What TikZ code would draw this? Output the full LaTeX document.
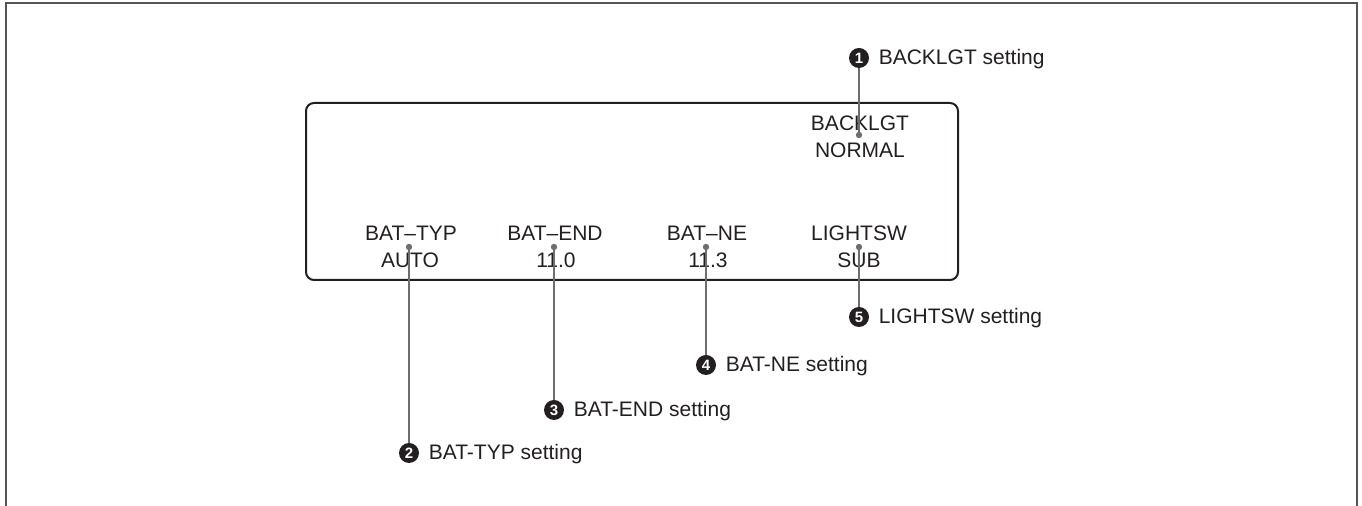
\documentclass[tikz,border=0pt]{standalone}
\usepackage{fontspec}
\setmainfont{Liberation Sans}
\usetikzlibrary{positioning}

\definecolor{leadgray}{HTML}{6D6E71}
\definecolor{framegray}{HTML}{555555}
\definecolor{inkblack}{HTML}{231F20}

\begin{document}
\begin{tikzpicture}[
  x=0.5pt, y=-0.5pt,
  disp/.style={anchor=base, inner sep=0pt, text=inkblack,
    font=\fontsize{10.5}{12.6}\selectfont},
  lbl/.style={anchor=base west, inner sep=0pt, text=inkblack,
    font=\fontsize{10.5}{12.6}\selectfont},
  num/.style={circle, fill=inkblack, text=white, inner sep=0pt,
    minimum size=10pt, font=\fontsize{7.5}{8}\selectfont\bfseries},
  dot/.style={circle, fill=leadgray, inner sep=0pt, minimum size=3.2pt},
  leader/.style={draw=leadgray, line width=1pt},
]

\useasboundingbox (0,0) rectangle (1362,506);

% --- Outer frame (open at the bottom) ---
\draw[framegray, line width=1pt] (6,506) -- (6,3) -- (1357,3) -- (1357,506);

% --- Display window ---
\draw[inkblack, line width=1pt, rounded corners=4pt] (306,103) rectangle (958,280);

% --- Display texts ---
\node[disp] (bl)   at (860,131) {BACKLGT};
\node[disp] (blv)  at (860,158) {NORMAL};
\node[disp] (typ)  at (411,241) {BAT--TYP};
\node[disp] (typv) at (410,268) {AUTO};
\node[disp] (end)  at (555,241) {BAT--END};
\node[disp] (endv) at (556,268) {11.0};
\node[disp] (ne)   at (707,241) {BAT--NE};
\node[disp] (nev)  at (708,268) {11.3};
\node[disp] (lsw)  at (859,241) {LIGHTSW};
\node[disp] (lswv) at (859,268) {SUB};

% --- Leader end points ---
\node[dot] (d1) at (859,135) {};
\node[dot] (d2) at (409,247) {};
\node[dot] (d3) at (554,247) {};
\node[dot] (d4) at (706,247) {};
\node[dot] (d5) at (859,247) {};

% --- Numbered callouts ---
\node[num] (n1) at (859,58)  {1};
\node[num] (n2) at (409,453) {2};
\node[num] (n3) at (554,410) {3};
\node[num] (n4) at (706,365) {4};
\node[num] (n5) at (859,317) {5};

% --- Leader lines ---
\draw[leader] (d1.center) -- (n1);
\draw[leader] (d2.center) -- (n2);
\draw[leader] (d3.center) -- (n3);
\draw[leader] (d4.center) -- (n4);
\draw[leader] (d5.center) -- (n5);

% --- Callout texts ---
\node[lbl] (l1) at ([shift={(9,7)}]n1.east) {BACKLGT setting};
\node[lbl] (l2) at ([shift={(9,7)}]n2.east) {BAT-TYP setting};
\node[lbl] (l3) at ([shift={(9,7)}]n3.east) {BAT-END setting};
\node[lbl] (l4) at ([shift={(9,7)}]n4.east) {BAT-NE setting};
\node[lbl] (l5) at ([shift={(9,7)}]n5.east) {LIGHTSW setting};

\end{tikzpicture}
\end{document}
